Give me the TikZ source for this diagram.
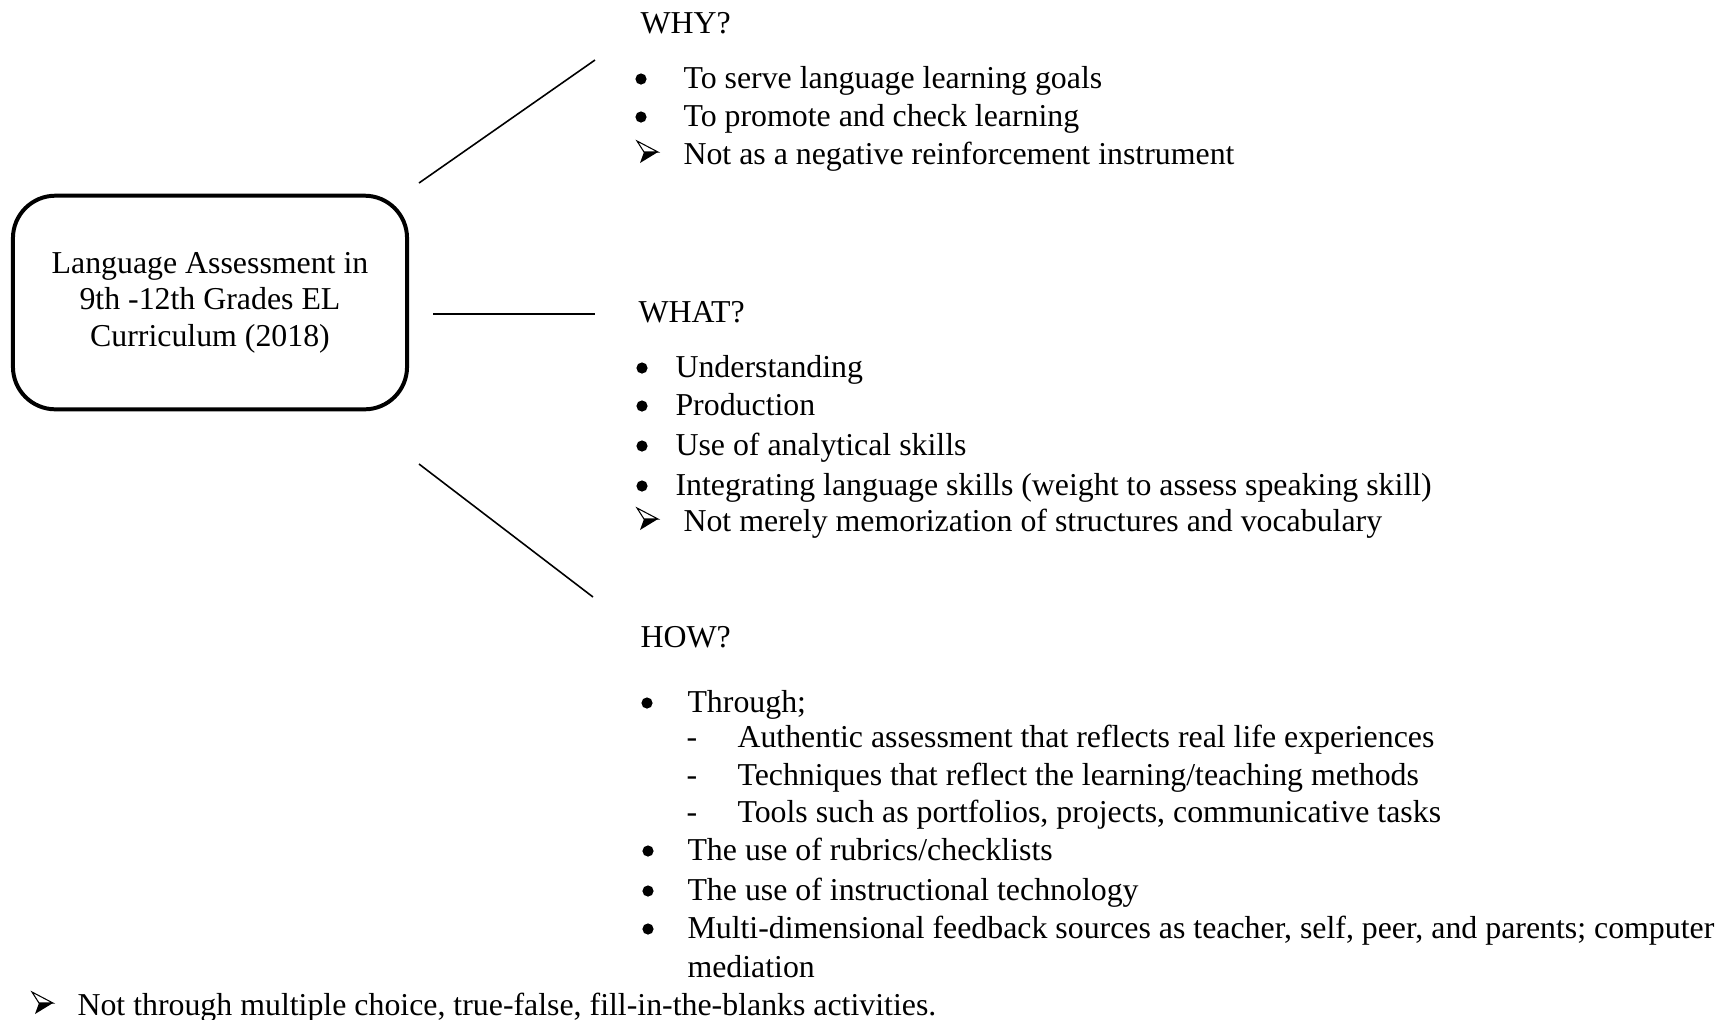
\documentclass[tikz,border=0pt]{standalone}
\usepackage{fontspec}
\setmainfont{Liberation Serif}
\usetikzlibrary{positioning}

\tikzset{
  topicbox/.style={draw, line width=1.5pt, rounded corners=16pt, minimum width=148.5pt, minimum height=80.5pt, align=center, font=\fontsize{12}{13.75}\selectfont},
  heading/.style={anchor=base west, inner sep=0pt, font=\fontsize{12}{14}\selectfont},
  itemtext/.style={heading},
  branch/.style={line width=0.6pt},
  dot/.pic={\fill (0,0) circle (5.6);},
  pointer/.pic={\draw[line width=0.4pt] (0,-11) -- (21,0) -- (7,0) -- cycle;
                \fill (7,0) -- (21,0) -- (3,11) -- cycle;}
}

\begin{document}
\begin{tikzpicture}[x=0.3768pt,y=-0.3768pt]
	\useasboundingbox (0,0) rectangle (1733,1019);

	% Topic box
	\node[topicbox] (topic) at (210,302.5) {Language Assessment in\\9th -12th Grades EL\\Curriculum (2018)};

	% Branches
	\coordinate (why-start) at (419,183);
	\coordinate (why-end) at (595,60);
	\coordinate (what-start) at (433,314);
	\coordinate (what-end) at (595,314);
	\coordinate (how-start) at (419,464);
	\coordinate (how-end) at (593,597);
	\draw[branch] (why-start) -- (why-end);
	\draw[branch] (what-start) -- (what-end);
	\draw[branch] (how-start) -- (how-end);

	% WHY?
	\node[heading] (why) at (640,33) {WHY?};
	\pic at (641,79) {dot};
	\node[itemtext] (why-1) at (683,88) {To serve language learning goals};
	\pic at (641,117) {dot};
	\node[itemtext] (why-2) at (683,126) {To promote and check learning};
	\pic at (637,152) {pointer};
	\node[itemtext] (why-3) at (683,164) {Not as a negative reinforcement instrument};

	% WHAT?
	\node[heading] (what) at (638,322) {WHAT?};
	\pic at (642,368) {dot};
	\node[itemtext] (what-1) at (675,377) {Understanding};
	\pic at (642,406) {dot};
	\node[itemtext] (what-2) at (675,415) {Production};
	\pic at (642,446) {dot};
	\node[itemtext] (what-3) at (675,455) {Use of analytical skills};
	\pic at (642,486) {dot};
	\node[itemtext] (what-4) at (675,495) {Integrating language skills (weight to assess speaking skill)};
	\pic at (637,519) {pointer};
	\node[itemtext] (what-5) at (683,531) {Not merely memorization of structures and vocabulary};

	% HOW?
	\node[heading] (how) at (640,647) {HOW?};
	\pic at (647,703) {dot};
	\node[itemtext] (how-1) at (687,712) {Through;};
	\node[itemtext] (dash-1) at (686,747) {-};
	\node[itemtext] (how-1a) at (737,747) {Authentic assessment that reflects real life experiences};
	\node[itemtext] (dash-2) at (686,785) {-};
	\node[itemtext] (how-1b) at (737,785) {Techniques that reflect the learning/teaching methods};
	\node[itemtext] (dash-3) at (686,822) {-};
	\node[itemtext] (how-1c) at (737,822) {Tools such as portfolios, projects, communicative tasks};
	\pic at (648,851) {dot};
	\node[itemtext] (how-2) at (687,860) {The use of rubrics/checklists};
	\pic at (648,891) {dot};
	\node[itemtext] (how-3) at (687,900) {The use of instructional technology};
	\pic at (648,929) {dot};
	\node[itemtext] (how-4) at (687,938) {Multi-dimensional feedback sources as teacher, self, peer, and parents; computer};
	\node[itemtext] (how-4b) at (687,977) {mediation};

	% Final remark
	\pic at (32,1003) {pointer};
	\node[itemtext] (how-not) at (77,1015) {Not through multiple choice, true-false, fill-in-the-blanks activities.};
\end{tikzpicture}
\end{document}
